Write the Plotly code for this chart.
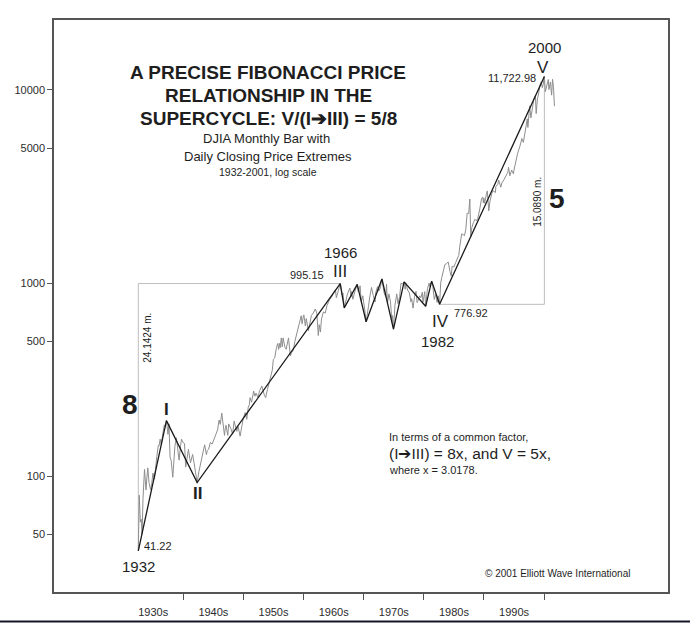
import math
import plotly.graph_objects as go

# ---------------- data ----------------
dj_year = [
    1932.52, 1932.68, 1932.85,
    1933.00, 1933.15, 1933.30, 1933.55, 1933.80, 1933.95,
    1934.10, 1934.30, 1934.55, 1934.75, 1934.95,
    1935.20, 1935.40, 1935.60, 1935.85, 1935.98,
    1936.15, 1936.35, 1936.60, 1936.85, 1936.98,
    1937.20, 1937.45, 1937.62, 1937.80, 1937.98,
    1938.25, 1938.45, 1938.60, 1938.85,
    1939.30, 1939.55, 1939.70, 1939.95,
    1940.20, 1940.40, 1940.70, 1940.85,
    1941.20, 1941.55, 1941.80, 1941.96,
    1942.30, 1942.60, 1942.85, 1942.98,
    1943.30, 1943.55, 1943.85, 1943.98,
    1944.20, 1944.50, 1944.80, 1944.98,
    1945.20, 1945.45, 1945.70, 1945.95,
    1946.15, 1946.40, 1946.70, 1946.85, 1946.98,
    1947.10, 1947.40, 1947.55, 1947.90,
    1948.20, 1948.45, 1948.70, 1948.90,
    1949.10, 1949.45, 1949.75, 1949.98,
    1950.30, 1950.55, 1950.80, 1950.98,
    1951.10, 1951.35, 1951.70, 1951.90,
    1952.10, 1952.40, 1952.70, 1952.98,
    1953.05, 1953.50, 1953.70, 1953.98,
    1954.30, 1954.55, 1954.80, 1954.98,
    1955.20, 1955.50, 1955.70, 1955.85, 1955.98,
    1956.10, 1956.30, 1956.45, 1956.60, 1956.90,
    1957.10, 1957.50, 1957.80, 1957.98,
    1958.30, 1958.55, 1958.80, 1958.98,
    1959.30, 1959.60, 1959.75, 1959.98,
    1960.05, 1960.30, 1960.45, 1960.80, 1960.98,
    1961.30, 1961.60, 1961.95,
    1962.20, 1962.45, 1962.60, 1962.80, 1962.98,
    1963.30, 1963.60, 1963.90,
    1964.30, 1964.60, 1964.90,
    1965.30, 1965.45, 1965.70, 1965.98,
    1966.10, 1966.40, 1966.55, 1966.77, 1966.98,
    1967.30, 1967.70, 1967.90, 1967.98,
    1968.20, 1968.50, 1968.80, 1968.92,
    1969.10, 1969.40, 1969.60, 1969.85, 1969.98,
    1970.10, 1970.40, 1970.60, 1970.80, 1970.98,
    1971.30, 1971.60, 1971.90, 1971.98,
    1972.30, 1972.50, 1972.80, 1972.95,
    1973.03, 1973.40, 1973.65, 1973.80, 1973.95,
    1974.20, 1974.45, 1974.70, 1974.80, 1974.95,
    1975.20, 1975.50, 1975.70, 1975.98,
    1976.20, 1976.50, 1976.72, 1976.90, 1976.98,
    1977.30, 1977.60, 1977.85, 1977.98,
    1978.20, 1978.45, 1978.70, 1978.88, 1978.98,
    1979.30, 1979.50, 1979.75, 1979.85, 1979.98,
    1980.15, 1980.30, 1980.60, 1980.88, 1980.98,
    1981.30, 1981.50, 1981.73, 1981.98,
    1982.20, 1982.40, 1982.62, 1982.80, 1982.98,
    1983.30, 1983.50, 1983.75, 1983.98,
    1984.05, 1984.35, 1984.56, 1984.70, 1984.98,
    1985.30, 1985.60, 1985.80, 1985.98,
    1986.30, 1986.55, 1986.75, 1986.98,
    1987.20, 1987.45, 1987.65, 1987.80, 1987.98,
    1988.25, 1988.50, 1988.75, 1988.98,
    1989.30, 1989.60, 1989.80, 1989.90, 1989.98,
    1990.10, 1990.40, 1990.55, 1990.80, 1990.98,
    1991.30, 1991.50, 1991.90, 1991.98,
    1992.30, 1992.45, 1992.80, 1992.98,
    1993.30, 1993.60, 1993.98,
    1994.08, 1994.30, 1994.60, 1994.90, 1994.98,
    1995.30, 1995.60, 1995.98,
    1996.30, 1996.55, 1996.80, 1996.98,
    1997.20, 1997.30, 1997.60, 1997.80, 1997.98,
    1998.30, 1998.55, 1998.68, 1998.90, 1998.98,
    1999.30, 1999.50, 1999.70, 1999.85, 1999.98,
    2000.04, 2000.20, 2000.40, 2000.70, 2000.80, 2000.98,
    2001.05, 2001.25, 2001.40, 2001.55, 2001.72,
]
dj_close = [
    41.22, 79.9, 58.0,
    60.0, 50.2, 77.0, 108.7, 85.0, 99.0,
    110.7, 93.0, 85.5, 92.0, 104.0,
    96.7, 115.0, 127.0, 145.0, 144.0,
    156.0, 146.0, 167.0, 184.9, 180.0,
    194.4, 165.0, 187.0, 125.7, 121.0,
    98.95, 118.0, 143.0, 158.4,
    121.4, 144.0, 155.9, 150.0,
    148.0, 111.8, 132.0, 138.1,
    117.7, 130.0, 117.0, 106.3,
    92.92, 106.0, 116.0, 119.4,
    136.0, 145.8, 129.6, 136.0,
    138.0, 150.0, 147.0, 152.0,
    160.0, 168.0, 174.0, 195.8,
    186.0, 212.5, 172.0, 163.1, 177.0,
    184.0, 163.2, 186.9, 177.0,
    165.4, 193.2, 177.0, 171.0,
    182.0, 161.6, 183.0, 200.5,
    214.0, 197.5, 228.0, 235.0,
    255.7, 242.0, 276.4, 260.0,
    270.0, 256.4, 278.0, 292.0,
    293.8, 262.0, 255.5, 281.0,
    310.0, 340.0, 355.0, 404.0,
    410.0, 465.0, 487.0, 454.0, 488.0,
    462.4, 521.0, 468.0, 520.9, 466.0,
    454.8, 520.8, 419.8, 436.0,
    450.0, 500.0, 540.0, 583.0,
    620.0, 678.1, 616.0, 679.0,
    685.5, 600.0, 655.8, 566.1, 616.0,
    680.0, 700.0, 734.9,
    700.0, 535.8, 610.0, 558.0, 652.0,
    710.0, 700.0, 767.0,
    820.0, 841.0, 875.0,
    922.0, 840.6, 910.0, 969.0,
    995.15, 870.0, 890.0, 744.3, 786.0,
    880.0, 943.1, 850.0, 905.0,
    825.1, 900.0, 950.0, 985.2,
    900.0, 968.9, 801.9, 860.0, 800.0,
    760.0, 631.2, 720.0, 760.0, 838.0,
    950.8, 860.0, 797.97, 890.0,
    960.0, 910.0, 950.0, 1036.0,
    1051.7, 890.0, 851.9, 987.0, 788.3,
    880.0, 800.0, 627.2, 680.0, 577.6,
    770.0, 880.0, 784.0, 852.0,
    1000.0, 990.0, 1014.8, 930.0, 1004.0,
    920.0, 890.0, 800.0, 831.0,
    742.1, 850.0, 907.7, 792.5, 805.0,
    860.0, 840.0, 897.6, 796.7, 838.0,
    903.8, 759.1, 935.0, 1000.2, 964.0,
    1024.0, 960.0, 824.0, 875.0,
    795.0, 860.0, 776.92, 1000.0, 1070.0,
    1180.0, 1248.0, 1260.0, 1280.0,
    1287.0, 1150.0, 1086.6, 1224.0, 1211.0,
    1280.0, 1350.0, 1390.0, 1553.0,
    1800.0, 1780.0, 1760.0, 1896.0,
    2300.0, 2290.0, 2722.4, 1738.7, 1939.0,
    2060.0, 2140.0, 2100.0, 2168.0,
    2420.0, 2740.0, 2791.0, 2600.0, 2753.0,
    2590.0, 2880.0, 2999.8, 2365.1, 2633.0,
    2910.0, 3010.0, 2943.0, 3168.0,
    3250.0, 3413.0, 3137.0, 3301.0,
    3420.0, 3540.0, 3754.0,
    3978.0, 3593.0, 3850.0, 3674.0, 3834.0,
    4300.0, 4700.0, 5117.0,
    5600.0, 5346.0, 6000.0, 6448.0,
    7085.0, 6391.0, 8259.0, 7161.0, 7908.0,
    9000.0, 9337.97, 7539.0, 9100.0, 9181.0,
    10500.0, 11000.0, 10273.0, 10700.0, 11497.0,
    11722.98, 9796.0, 10500.0, 11310.0, 10034.0, 10788.0,
    10983.0, 9389.0, 11337.0, 10400.0, 8235.8,
]
assert len(dj_year) == len(dj_close)

# Elliott wave pivots (black line)
wave_year = [1932.52, 1937.20, 1942.30, 1966.10, 1966.77, 1968.92, 1970.40,
             1973.03, 1974.95, 1976.72, 1980.30, 1981.30, 1982.62, 2000.04]
wave_value = [41.22, 194.4, 92.92, 995.15, 744.3, 985.2, 631.2,
              1051.7, 577.6, 1014.8, 759.1, 1024.0, 776.92, 11722.98]

# measured spans
low_1932, top_1966 = 41.22, 995.15
low_1982, top_2000 = 776.92, 11722.98
year_1932, year_1966, year_1982, year_2000 = 1932.52, 1966.10, 1982.62, 2000.04

x_tick_vals = [1935, 1945, 1955, 1965, 1975, 1985, 1995]
x_tick_text = ["1930s", "1940s", "1950s", "1960s", "1970s", "1980s", "1990s"]
x_decade_marks = [1940, 1950, 1960, 1970, 1980, 1990, 2000]
y_tick_vals = [50, 100, 500, 1000, 5000, 10000]
y_tick_text = ["50", "100", "500", "1000", "5000", "10000"]

# ---------------- figure ----------------
FONT = "Liberation Sans, Arial, Helvetica, sans-serif"
TXT = "#1e1e1e"
TICK = "#2b2b2b"
fig = go.Figure()

# reference lines
fig.add_trace(go.Scatter(x=[year_1932, year_1932, year_1966],
                         y=[low_1932, top_1966, top_1966],
                         mode="lines", line=dict(color="#bdbdbd", width=1),
                         hoverinfo="skip"))
fig.add_trace(go.Scatter(x=[year_1982, year_2000, year_2000],
                         y=[low_1982, low_1982, top_2000],
                         mode="lines", line=dict(color="#bdbdbd", width=1),
                         hoverinfo="skip"))
# DJIA
fig.add_trace(go.Scatter(x=dj_year, y=dj_close, mode="lines",
                         line=dict(color="#8e8e8e", width=1)))
# wave line
fig.add_trace(go.Scatter(x=wave_year, y=wave_value, mode="lines",
                         line=dict(color="#1a1a1a", width=1.3)))

ann = []
def pt(x, y, text, size, xs=0, ys=0, xa="center", bold=False):
    # y given in data units; log axis annotations use log10
    ann.append(dict(x=x, y=math.log10(y), xref="x", yref="y", text=text,
                    showarrow=False, xanchor=xa, yanchor="middle",
                    xshift=xs, yshift=ys,
                    font=dict(family=FONT, size=size, color=TXT,
                              weight="bold" if bold else "normal")))

FIG_H = 625
PLOT_TOP, PLOT_H, PLOT_L, PLOT_W = 20, 572.5, 54, 614
def pp(px, py, text, size, xa="center", bold=False, angle=0):
    ann.append(dict(x=(px - PLOT_L) / PLOT_W, y=1 - (py - PLOT_TOP) / PLOT_H,
                    xref="paper", yref="paper", text=text, showarrow=False,
                    xanchor=xa, yanchor="middle", textangle=angle,
                    font=dict(family=FONT, size=size, color=TXT,
                              weight="bold" if bold else "normal")))

# wave labels
pt(wave_year[0], wave_value[0], "1932", 15, ys=-16)
pt(wave_year[0], wave_value[0], "41.22", 11, xs=4, ys=5, xa="left")
pt(wave_year[1], wave_value[1], "I", 17, ys=11, bold=True)
pt(wave_year[2], wave_value[2], "II", 17, ys=-11, bold=True)
pt(wave_year[3], wave_value[3], "III", 17, ys=12)
pt(wave_year[3], wave_value[3], "1966", 15, ys=31)
pt(wave_year[3], wave_value[3], "995.15", 11, xs=-33, ys=9)
pt(wave_year[12], wave_value[12], "IV", 17, xs=1, ys=-17)
pt(wave_year[12], wave_value[12], "776.92", 11, xs=31, ys=-9)
pt(wave_year[12], wave_value[12], "1982", 15, xs=-2, ys=-37)
pt(wave_year[13], wave_value[13], "V", 17, xs=-1, ys=9)
pt(wave_year[13], wave_value[13], "2000", 15, ys=29)
pt(wave_year[13], wave_value[13], "11,722.98", 11, xs=-6, ys=-1, xa="right")

# titles
pp(268, 73, "A PRECISE FIBONACCI PRICE", 19, bold=True)
pp(268, 96, "RELATIONSHIP IN THE", 19, bold=True)
pp(268, 119, "SUPERCYCLE: V/(I➔III) = 5/8", 19, bold=True)
pp(266, 139, "DJIA Monthly Bar with", 13)
pp(268, 157, "Daily Closing Price Extremes", 13)
pp(268, 172, "1932-2001, log scale", 10.5)

# ratio marks
pp(129.5, 405, "8", 28, bold=True)
pp(148, 338, "24.1424 m.", 10, angle=-90)
pp(557, 199, "5", 28, bold=True)
pp(538, 202, "15.0890 m.", 10, angle=-90)

# explanatory text
pp(387, 437, "In terms of a common factor,", 11, xa="left")
pp(387, 454, "(I➔III) = 8x, and V = 5x,", 15.5, xa="left")
pp(387, 470, "where x = 3.0178.", 11, xa="left")
pp(632, 574, "© 2001 Elliott Wave International", 10, xa="right")

y_rule = 1 - (622 - PLOT_TOP) / PLOT_H
fig.update_layout(
    template="none",
    width=690, height=FIG_H,
    margin=dict(l=54, r=22, t=PLOT_TOP, b=FIG_H - PLOT_TOP - PLOT_H,
                autoexpand=False),
    paper_bgcolor="white", plot_bgcolor="white",
    showlegend=False,
    annotations=ann,
    shapes=[dict(type="line", xref="paper", yref="paper",
                 x0=-0.09, x1=1.04, y0=y_rule, y1=y_rule,
                 line=dict(color="#15152a", width=2))],
    font=dict(family=FONT, color=TXT),
)
fig.update_xaxes(
    range=[1918.5, 2020.6], showgrid=False, zeroline=False, automargin=False,
    showline=True, mirror=True, linecolor="#555555", linewidth=1.5,
    tickmode="array", tickvals=x_tick_vals, ticktext=x_tick_text,
    ticks="outside", ticklen=9, tickcolor="rgba(0,0,0,0)",
    tickfont=dict(family=FONT, size=11, color=TICK),
    minor=dict(tickmode="array", tickvals=x_decade_marks, ticks="outside",
               ticklen=6, tickcolor="#555555", tickwidth=1, showgrid=False),
)
fig.update_yaxes(
    type="log", range=[1.402, 4.3615], showgrid=False, zeroline=False,
    automargin=False,
    showline=True, mirror=True, linecolor="#555555", linewidth=1.5,
    tickmode="array", tickvals=y_tick_vals, ticktext=y_tick_text,
    ticks="outside", ticklen=5, tickcolor="#555555",
    tickfont=dict(family=FONT, size=11, color=TICK),
)

fig.write_html("out.html", config={"displayModeBar": False},
               post_script="document.body.style.margin='0px';")
